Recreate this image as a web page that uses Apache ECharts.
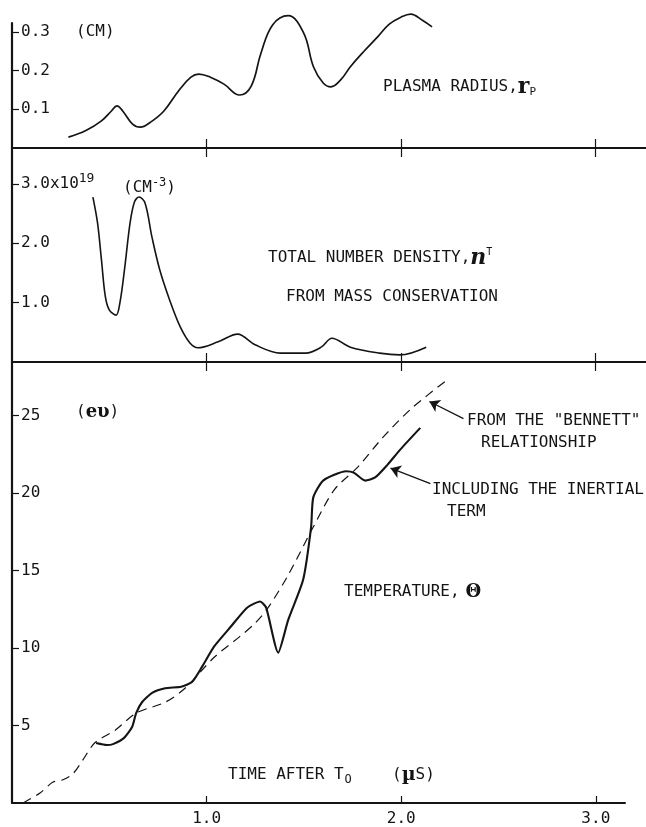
<!DOCTYPE html>
<html>
<head>
<meta charset="utf-8">
<script src="https://cdn.jsdelivr.net/npm/echarts@6/dist/echarts.min.js"></script>
<style>
  html, body { margin: 0; padding: 0; background: #fff; }
  #chart { width: 646px; height: 827px; }
</style>
</head>
<body>
<div id="chart"></div>
<script>
// Time after T0 in microseconds, shared by the three stacked panels
const timeTicks = [1.0, 2.0, 3.0];

// Plasma radius r_p (cm)
const radiusTime = [0.29, 0.38, 0.46, 0.51, 0.54, 0.57, 0.62, 0.66, 0.71, 0.78, 0.86, 0.92, 0.96, 1.02, 1.09, 1.17, 1.23, 1.28, 1.34, 1.42, 1.50, 1.55, 1.60, 1.64, 1.69, 1.74, 1.81, 1.88, 1.94, 2.00, 2.05, 2.11, 2.16];
const radiusCm   = [0.028, 0.045, 0.070, 0.095, 0.109, 0.095, 0.062, 0.054, 0.066, 0.095, 0.150, 0.183, 0.191, 0.183, 0.165, 0.137, 0.160, 0.245, 0.318, 0.342, 0.297, 0.210, 0.168, 0.158, 0.176, 0.210, 0.250, 0.287, 0.320, 0.338, 0.346, 0.330, 0.313];
const radiusTicks = [0.1, 0.2, 0.3];

// Total number density n^T (units of 1e19 cm^-3)
const densityTime = [0.416, 0.44, 0.46, 0.48, 0.50, 0.535, 0.555, 0.58, 0.607, 0.63, 0.653, 0.684, 0.72, 0.76, 0.81, 0.864, 0.915, 0.956, 1.06, 1.16, 1.25, 1.38, 1.51, 1.59, 1.645, 1.74, 1.89, 1.995, 2.13];
const densityE19   = [2.78, 2.34, 1.72, 1.10, 0.88, 0.79, 1.00, 1.60, 2.34, 2.70, 2.78, 2.68, 2.10, 1.55, 1.05, 0.60, 0.32, 0.24, 0.34, 0.47, 0.29, 0.15, 0.15, 0.25, 0.40, 0.25, 0.15, 0.12, 0.25];
const densityTicks = [1.0, 2.0, 3.0];

// Temperature (eV) including the inertial term
const inertialTime = [0.432, 0.488, 0.519, 0.576, 0.617, 0.638, 0.668, 0.72, 0.787, 0.869, 0.925, 0.977, 1.039, 1.126, 1.208, 1.275, 1.306, 1.368, 1.419, 1.496, 1.537, 1.548, 1.599, 1.717, 1.758, 1.815, 1.866, 1.928, 1.995, 2.098];
const inertialEv   = [3.87, 3.74, 3.80, 4.20, 4.90, 5.80, 6.50, 7.10, 7.40, 7.50, 7.80, 8.80, 10.1, 11.4, 12.6, 13.0, 12.6, 9.7, 11.8, 14.4, 17.8, 19.7, 20.8, 21.4, 21.3, 20.8, 21.0, 21.8, 22.8, 24.2];

// Temperature (eV) from the "Bennett" relationship
const bennettTime = [0.057, 0.144, 0.211, 0.262, 0.314, 0.365, 0.427, 0.53, 0.638, 0.787, 0.889, 1.039, 1.167, 1.249, 1.316, 1.419, 1.548, 1.656, 1.779, 1.907, 2.057, 2.237];
const bennettEv   = [0.0, 0.65, 1.35, 1.50, 1.90, 2.80, 3.90, 4.70, 5.80, 6.50, 7.40, 9.40, 10.7, 11.6, 12.6, 14.7, 17.8, 20.2, 21.7, 23.6, 25.5, 27.3];
const tempTicks = [5, 10, 15, 20, 25];

const zip = (xs, ys) => xs.map((x, i) => [x, ys[i]]);

const INK = '#141414';
const FONT = '"DejaVu Sans Mono", "Liberation Mono", monospace';
const SERIF = '"DejaVu Serif", "Liberation Serif", serif';

const labelBase = { color: INK, fontFamily: FONT, fontSize: 16 };

function mainX(gridIndex, max, showLabels, tickLen) {
  return {
    type: 'value', gridIndex, min: 0, max, position: 'bottom',
    axisLine: { show: true, onZero: false, lineStyle: { color: INK, width: 2 } },
    axisTick: { show: true, inside: true, length: tickLen, customValues: timeTicks, lineStyle: { color: INK, width: 1.2 } },
    axisLabel: Object.assign({ show: showLabels, margin: 8, customValues: timeTicks, formatter: v => v.toFixed(1) }, labelBase),
    splitLine: { show: false }
  };
}
function auxX(gridIndex, max) {
  // lower half of the crossing tick marks
  return {
    type: 'value', gridIndex, min: 0, max, position: 'bottom', offset: 0,
    axisLine: { show: false },
    axisTick: { show: true, inside: false, length: 9, customValues: timeTicks, lineStyle: { color: INK, width: 1.2 } },
    axisLabel: { show: false },
    splitLine: { show: false }
  };
}
function leftY(gridIndex, max, ticks, formatter, rich) {
  return {
    type: 'value', gridIndex, min: 0, max,
    axisLine: { show: true, onZero: false, lineStyle: { color: INK, width: 2.2 } },
    axisTick: { show: true, inside: true, length: 7, customValues: ticks, lineStyle: { color: INK, width: 1.2 } },
    axisLabel: Object.assign({ inside: true, margin: 9, customValues: ticks, formatter, rich: rich || {} }, labelBase),
    splitLine: { show: false }
  };
}

// leader arrow from a caption to its curve, given in data coordinates
function pointer(from, to) {
  return {
    silent: true,
    symbol: ['none', 'arrow'],
    symbolSize: 10,
    symbolKeepAspect: true,
    label: { show: false },
    itemStyle: { color: INK },
    lineStyle: { color: INK, width: 1.3, type: 'solid' },
    emphasis: { disabled: true },
    data: [[{ coord: from }, { coord: to }]]
  };
}

function note(x, y, text, rich) {
  return { type: 'text', x, y, style: { text, font: '16px ' + FONT, fill: INK, verticalAlign: 'middle', rich: rich || {} } };
}

const chart = echarts.init(document.getElementById('chart'), null, { renderer: 'canvas' });

const option = {
  animation: false,
  backgroundColor: '#ffffff',
  grid: [
    { left: 12, top: 23, width: 634, height: 125 },
    { left: 12, top: 148, width: 634, height: 214 },
    { left: 12, top: 362, width: 613, height: 441 }
  ],
  xAxis: [
    mainX(0, 3.26, false, 9), auxX(0, 3.26),
    mainX(1, 3.26, false, 9), auxX(1, 3.26),
    mainX(2, 3.15, true, 7)
  ],
  yAxis: [
    leftY(0, 0.323, radiusTicks, v => v.toFixed(1)),
    leftY(1, 3.607, densityTicks,
      v => (Math.abs(v - 3) < 1e-9 ? '3.0x10{sup|19}' : v.toFixed(1)),
      { sup: { fontFamily: FONT, fontSize: 13, color: INK, verticalAlign: 'top', padding: [0, 0, 10, 0] } }),
    leftY(2, 28.45, tempTicks, v => String(v))
  ],
  series: [
    {
      name: 'Plasma radius', type: 'line', xAxisIndex: 0, yAxisIndex: 0,
      data: zip(radiusTime, radiusCm), smooth: 0.4, symbol: 'none', clip: false,
      itemStyle: { color: INK }, lineStyle: { color: INK, width: 1.7 }
    },
    {
      name: 'Total number density', type: 'line', xAxisIndex: 2, yAxisIndex: 1,
      data: zip(densityTime, densityE19), smooth: 0.35, symbol: 'none', clip: false,
      itemStyle: { color: INK }, lineStyle: { color: INK, width: 1.6 }
    },
    {
      name: 'Including the inertial term', type: 'line', xAxisIndex: 4, yAxisIndex: 2,
      data: zip(inertialTime, inertialEv), smooth: 0.2, symbol: 'none', clip: false,
      itemStyle: { color: INK }, lineStyle: { color: INK, width: 2.1 },
      markLine: pointer([2.15, 20.6], [1.945, 21.6])
    },
    {
      name: 'From the Bennett relationship', type: 'line', xAxisIndex: 4, yAxisIndex: 2,
      data: zip(bennettTime, bennettEv), smooth: 0.3, symbol: 'none', clip: false,
      itemStyle: { color: INK }, lineStyle: { color: INK, width: 1.2, type: [9, 6] },
      markLine: pointer([2.32, 24.8], [2.145, 25.9])
    }
  ],
  graphic: [
    note(76, 32, '(CM)'),
    note(383, 87, 'PLASMA RADIUS,{r|r}{s|P}', {
      r: { font: 'bold 22px ' + SERIF, fill: INK },
      s: { font: '11px ' + FONT, fill: INK, verticalAlign: 'bottom', padding: [8, 0, 0, 0] }
    }),
    note(123, 188, '(CM{s|-3})', {
      s: { font: '12px ' + FONT, fill: INK, verticalAlign: 'top', padding: [0, 0, 10, 0] }
    }),
    note(268, 258, 'TOTAL NUMBER DENSITY,{n|n}{s|T}', {
      n: { font: 'bold italic 22px ' + SERIF, fill: INK },
      s: { font: '10px ' + FONT, fill: INK, verticalAlign: 'top', padding: [0, 0, 12, 0] }
    }),
    note(286, 297, 'FROM MASS CONSERVATION'),
    note(76, 412, '({b|eυ})', { b: { font: 'bold 18px ' + SERIF, fill: INK } }),
    note(467, 421, 'FROM THE "BENNETT"'),
    note(481, 443, 'RELATIONSHIP'),
    note(432, 490, 'INCLUDING THE INERTIAL'),
    note(447, 512, 'TERM'),
    note(344, 592, 'TEMPERATURE,{t|Θ}', { t: { font: 'bold 18px ' + SERIF, fill: INK, padding: [0, 0, 0, 6] } }),
    note(228, 775, 'TIME AFTER T{s|O}', {
      s: { font: '12px ' + FONT, fill: INK, verticalAlign: 'bottom', padding: [10, 0, 0, 1] }
    }),
    note(392, 775, '({m|µ}S)', { m: { font: 'bold 19px ' + SERIF, fill: INK } })
  ]
};

chart.setOption(option);
</script>
</body>
</html>
